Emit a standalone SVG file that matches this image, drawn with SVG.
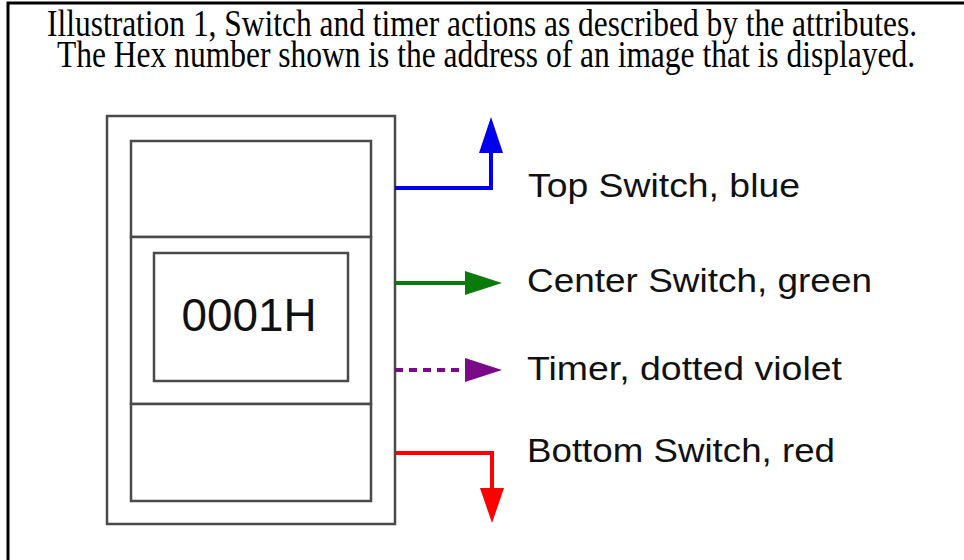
<svg xmlns="http://www.w3.org/2000/svg" width="964" height="560" viewBox="0 0 964 560">
<style>
.title{font-family:"Liberation Serif","Times New Roman",serif;font-size:37px;fill:#000}
.lbl{font-family:"Liberation Sans",Arial,sans-serif;font-size:33px;fill:#111}
.box{fill:#fff;stroke:#4a4a4a;stroke-width:2.5}
.conn{fill:none;stroke-width:4}
</style>
<rect width="964" height="560" fill="#fff"/>
<path d="M8 560 V3 H964" fill="none" stroke="#000" stroke-width="3"/>
<text class="title" x="482" y="36" text-anchor="middle" textLength="870" lengthAdjust="spacingAndGlyphs">Illustration 1, Switch and timer actions as described by the attributes.</text>
<text class="title" x="486" y="67" text-anchor="middle" textLength="858" lengthAdjust="spacingAndGlyphs">The Hex number shown is the address of an image that is displayed.</text>
<g id="device">
<rect class="box" x="107" y="116" width="288" height="408"/>
<rect class="box" x="131" y="141" width="240" height="96"/>
<rect class="box" x="131" y="237" width="240" height="167"/>
<rect class="box" x="131" y="404" width="240" height="97"/>
</g>
<g id="display">
<rect class="box" x="154" y="253" width="194" height="128"/>
<text class="lbl" x="249" y="331" text-anchor="middle" style="font-size:46px" textLength="135" lengthAdjust="spacingAndGlyphs">0001H</text>
</g>
<g id="connectors">
<path class="conn" d="M395 188 H491 V152" stroke="#0000ee"/>
<polygon points="479,153 503,153 491,117" fill="#0000ee"/>
<path class="conn" d="M395 283 H467" stroke="#0a7a0a"/>
<polygon points="465,271 465,295 502,283" fill="#0a7a0a"/>
<path class="conn" d="M395 370 H467" stroke="#7a0a8a" stroke-dasharray="8,6"/>
<polygon points="465,358 465,382 502,370" fill="#7a0a8a"/>
<path class="conn" d="M395 453 H492 V489" stroke="#ff0000"/>
<polygon points="480,488 504,488 492,523" fill="#ff0000"/>
</g>
<g id="label-top"><text class="lbl" x="528" y="197" textLength="272" lengthAdjust="spacingAndGlyphs">Top Switch, blue</text></g>
<g id="label-center"><text class="lbl" x="527" y="292" textLength="345" lengthAdjust="spacingAndGlyphs">Center Switch, green</text></g>
<g id="label-timer"><text class="lbl" x="527" y="380" textLength="315" lengthAdjust="spacingAndGlyphs">Timer, dotted violet</text></g>
<g id="label-bottom"><text class="lbl" x="527" y="462" textLength="308" lengthAdjust="spacingAndGlyphs">Bottom Switch, red</text></g>
</svg>
